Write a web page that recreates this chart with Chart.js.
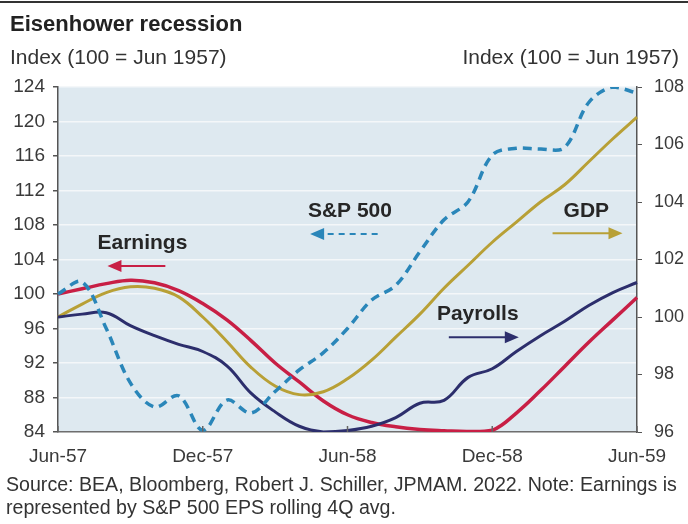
<!DOCTYPE html>
<html>
<head>
<meta charset="utf-8">
<script src="https://cdn.jsdelivr.net/npm/chart.js@4.4.1/dist/chart.umd.min.js"></script>
<style>
  html, body { margin: 0; padding: 0; background: #fff; overflow: hidden; }
  #wrap { position: relative; width: 688px; height: 524px; }
</style>
</head>
<body>
<div id="wrap"><canvas id="chart" width="688" height="524"></canvas></div>
<script>
// ===== data (index, 100 = Jun 1957) =====
const months = ['Jun-57','Jul-57','Aug-57','Sep-57','Oct-57','Nov-57','Dec-57',
                'Jan-58','Feb-58','Mar-58','Apr-58','May-58','Jun-58','Jul-58','Aug-58',
                'Sep-58','Oct-58','Nov-58','Dec-58','Jan-59','Feb-59','Mar-59','Apr-59',
                'May-59','Jun-59'];
const xTicks = ['Jun-57', 'Dec-57', 'Jun-58', 'Dec-58', 'Jun-59'];
const leftTicks = [84, 88, 92, 96, 100, 104, 108, 112, 116, 120, 124];
const rightTicks = [96, 98, 100, 102, 104, 106, 108];

// left axis
const sp500    = [100.0, 101.4, 96.0, 89.7, 86.9, 88.2, 84.2, 87.7, 86.2, 88.7, 91.2, 93.2, 96.0,
                  99.3, 101.0, 104.9, 108.6, 110.7, 116.1, 116.9, 116.8, 117.0, 122.2, 124.0, 123.3];
const earnings = [100.0, 100.6, 101.2, 101.6, 101.3, 100.4, 98.9, 97.0, 94.6, 92.0, 89.8, 87.6, 86.0,
                  85.1, 84.6, 84.3, 84.15, 84.05, 84.2, 86.2, 88.8, 91.6, 94.4, 97.0, 99.6];
// right axis
const gdp      = [100.0, 100.45, 100.85, 101.05, 101.0, 100.7, 100.0, 99.15, 98.25, 97.6, 97.3, 97.4, 97.85,
                  98.5, 99.3, 100.1, 101.0, 101.8, 102.6, 103.3, 104.0, 104.6, 105.4, 106.2, 106.95];
const payrolls = [100.0, 100.1, 100.15, 99.7, 99.35, 99.05, 98.8, 98.3, 97.35, 96.7, 96.2, 96.0, 96.05,
                  96.2, 96.5, 97.0, 97.1, 97.9, 98.2, 98.8, 99.35, 99.85, 100.4, 100.85, 101.2];

const RED = '#c81f45', GOLD = '#b8a036', NAVY = '#2c2e6c', BLUE = '#2a86b9';
const FONT = "'Liberation Sans', Arial, sans-serif";

// series labels with arrows, placed in axis units (x = month index, y = left axis)
const notes = [
  { text: 'Earnings', tx: 3.5,  ty: 105.9, ay: 103.25, from: 4.45,  to: 2.05, color: RED,  dash: [] },
  { text: 'S&P 500',  tx: 12.1, ty: 109.6, ay: 106.95, from: 13.25, to: 10.45, color: BLUE, dash: [6, 5] },
  { text: 'GDP',      tx: 21.9, ty: 109.6, ay: 107.05, from: 20.5,  to: 23.4, color: GOLD, dash: [] },
  { text: 'Payrolls', tx: 17.4, ty: 97.7,  ay: 95.0,   from: 16.2,  to: 19.1, color: NAVY, dash: [] }
];

function arrow(ctx, x1, x2, y, color, dash) {
  const dir = Math.sign(x2 - x1);
  ctx.save();
  ctx.strokeStyle = color;
  ctx.fillStyle = color;
  ctx.lineWidth = 2;
  ctx.setLineDash(dash);
  ctx.beginPath();
  ctx.moveTo(x1, y);
  ctx.lineTo(x2 - dir * 10, y);
  ctx.stroke();
  ctx.setLineDash([]);
  ctx.beginPath();
  ctx.moveTo(x2, y);
  ctx.lineTo(x2 - dir * 14, y - 6);
  ctx.lineTo(x2 - dir * 14, y + 6);
  ctx.closePath();
  ctx.fill();
  ctx.restore();
}

const decor = {
  id: 'decor',
  beforeDraw(chart) {
    const { ctx, chartArea: a } = chart;
    ctx.save();
    ctx.fillStyle = '#dee9f0';
    ctx.fillRect(a.left, a.top, a.right - a.left, a.bottom - a.top);
    ctx.restore();
  },
  afterDatasetsDraw(chart) {
    const { ctx, scales } = chart;
    ctx.save();
    ctx.font = 'bold 21px ' + FONT;
    ctx.fillStyle = '#262626';
    ctx.textAlign = 'center';
    ctx.textBaseline = 'middle';
    notes.forEach(n => {
      ctx.fillText(n.text, scales.x.getPixelForValue(n.tx), scales.y.getPixelForValue(n.ty));
      arrow(ctx, scales.x.getPixelForValue(n.from), scales.x.getPixelForValue(n.to),
            scales.y.getPixelForValue(n.ay), n.color, n.dash);
    });
    ctx.restore();
  },
  afterDraw(chart) {
    const { ctx, scales, chartArea: a } = chart;
    ctx.save();
    // x tick marks point up into the plot
    ctx.strokeStyle = '#666';
    ctx.lineWidth = 1.5;
    scales.x.ticks.forEach(t => {
      const px = scales.x.getPixelForValue(t.value);
      ctx.beginPath();
      ctx.moveTo(px, a.bottom);
      ctx.lineTo(px, a.bottom - 6);
      ctx.stroke();
    });
    // frame line along the top
    ctx.fillStyle = '#333';
    ctx.fillRect(0, 1, chart.width, 2);

    ctx.fillStyle = '#222';
    ctx.textBaseline = 'alphabetic';
    ctx.textAlign = 'left';
    ctx.font = 'bold 22px ' + FONT;
    ctx.fillText('Eisenhower recession', 10, 31);
    ctx.font = '21px ' + FONT;
    ctx.fillStyle = '#333';
    ctx.fillText('Index (100 = Jun 1957)', 10, 64);
    ctx.textAlign = 'right';
    ctx.fillText('Index (100 = Jun 1957)', 679, 64);
    ctx.textAlign = 'left';
    ctx.font = '19.6px ' + FONT;
    ctx.fillText('Source: BEA, Bloomberg, Robert J. Schiller, JPMAM. 2022. Note: Earnings is', 6, 491);
    ctx.fillText('represented by S&P 500 EPS rolling 4Q avg.', 6, 514);
    ctx.restore();
  }
};

new Chart(document.getElementById('chart'), {
  type: 'line',
  data: {
    labels: months,
    datasets: [
      { label: 'S&P 500', data: sp500, yAxisID: 'y', borderColor: BLUE, borderWidth: 3.5,
        borderDash: [9, 6], tension: 0.35, order: 0 },
      { label: 'Payrolls', data: payrolls, yAxisID: 'y2', borderColor: NAVY, borderWidth: 3, order: 1 },
      { label: 'GDP', data: gdp, yAxisID: 'y2', borderColor: GOLD, borderWidth: 3, order: 2 },
      { label: 'Earnings', data: earnings, yAxisID: 'y', borderColor: RED, borderWidth: 3.5, order: 3 }
    ]
  },
  options: {
    responsive: false,
    devicePixelRatio: 1,
    animation: false,
    layout: { padding: { top: 87, bottom: 52, left: 0, right: 0 } },
    elements: {
      point: { radius: 0 },
      line: { tension: 0.4, fill: false }
    },
    plugins: { legend: { display: false }, tooltip: { enabled: false } },
    scales: {
      x: {
        type: 'category',
        offset: false,
        grid: { display: false, drawTicks: false },
        border: { display: true, color: '#6e6e6e', width: 1.5 },
        afterBuildTicks: axis => { axis.ticks = axis.ticks.filter(t => xTicks.includes(months[t.value])); },
        afterFit: axis => { axis.height = 40; },
        ticks: { autoSkip: false, maxRotation: 0, padding: 13, color: '#3a3a3a',
                 font: { family: FONT, size: 19 } }
      },
      y: {
        position: 'left',
        min: 84, max: 124,
        afterBuildTicks: axis => { axis.ticks = leftTicks.map(v => ({ value: v })); },
        afterFit: axis => { axis.width = 58; },
        grid: { color: '#f4f7f9', lineWidth: 1.5, tickColor: '#555', tickLength: 5 },
        border: { display: true, color: '#555', width: 1.5 },
        ticks: { padding: 8, color: '#3a3a3a', font: { family: FONT, size: 19 } }
      },
      y2: {
        position: 'right',
        min: 96, max: 108,
        afterBuildTicks: axis => { axis.ticks = rightTicks.map(v => ({ value: v })); },
        afterFit: axis => { axis.width = 51; },
        grid: { drawOnChartArea: false, tickColor: '#555', tickLength: 5 },
        border: { display: true, color: '#555', width: 1.5 },
        ticks: { padding: 12, color: '#3a3a3a', font: { family: FONT, size: 18 } }
      }
    }
  },
  plugins: [decor]
});
</script>
</body>
</html>
